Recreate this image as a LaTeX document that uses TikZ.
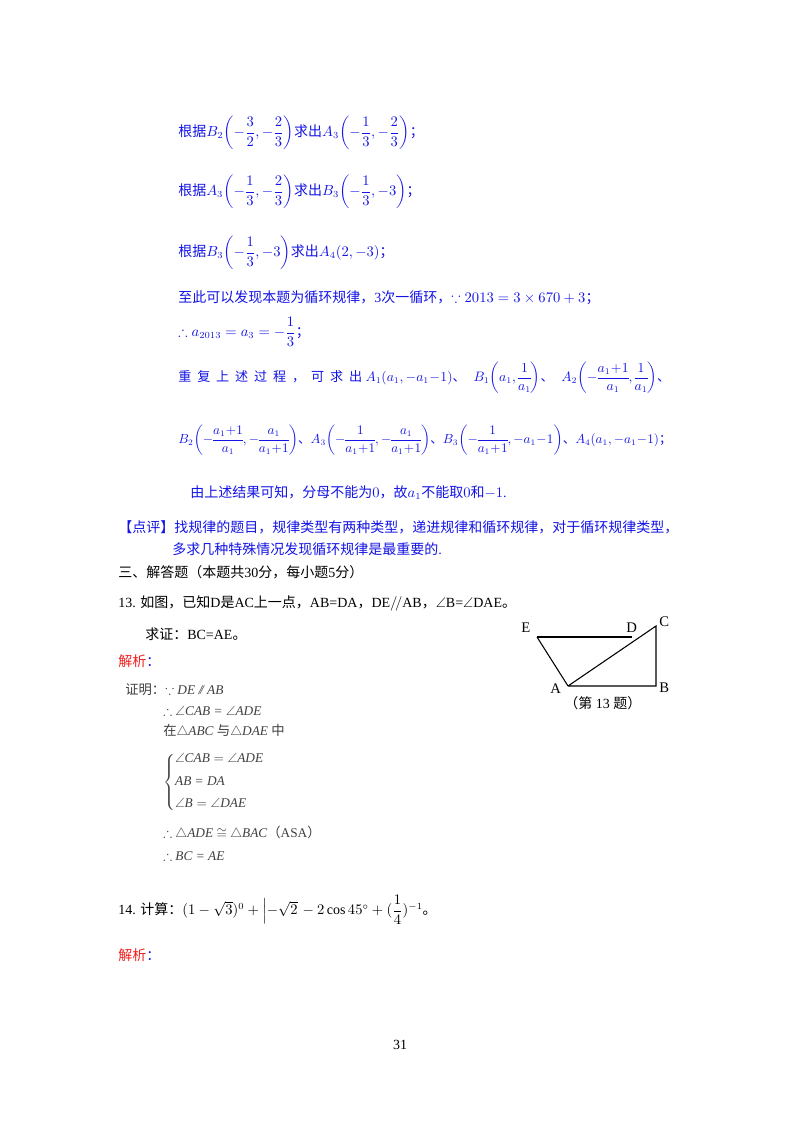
\documentclass[tikz,border=0pt]{standalone}
\usepackage{fontspec}
\usepackage{amsmath,amssymb,graphicx}
\setmainfont{Liberation Serif}
\newfontfamily\cjk{Noto Sans CJK SC}
\definecolor{tblue}{RGB}{20,20,230}
\definecolor{tred}{RGB}{240,30,30}
\newcommand{\zh}[1]{{\cjk #1}}
\newcommand{\spc}[1]{\zh{#1}\hspace{0.45em}}
\newcommand{\tight}{\medmuskip=0.5mu\thickmuskip=1mu\nulldelimiterspace=0pt\delimitershortfall=-1pt}
\begin{document}
\begin{tikzpicture}[x=0.75pt,y=-0.75pt,
  txt/.style={anchor=west,inner sep=0pt,font=\fontsize{10.5}{12}\selectfont},
  bl/.style={txt,text=tblue},
  bk/.style={txt,text=black},
  pf/.style={txt,text=black!75,font=\fontsize{10}{12}\selectfont\itshape},
  lab/.style={bk,font=\fontsize{11}{12}\selectfont},
  edge/.style={draw=black,line width=0.8pt}]
\useasboundingbox[fill=white] (0,0) rectangle (800,1132);
\node[bl] (l1) at (178,133) {\zh{根据}$B_2\!\left(-\dfrac{3}{2},-\dfrac{2}{3}\right)$\zh{求出}$A_3\!\left(-\dfrac{1}{3},-\dfrac{2}{3}\right)$\zh{；}};
\node[bl] (l2) at (178,192) {\zh{根据}$A_3\!\left(-\dfrac{1}{3},-\dfrac{2}{3}\right)$\zh{求出}$B_3\!\left(-\dfrac{1}{3},-3\right)$\zh{；}};
\node[bl] (l3) at (178,253) {\zh{根据}$B_3\!\left(-\dfrac{1}{3},-3\right)$\zh{求出}$A_4(2,-3)$\zh{；}};
\node[bl] (l4) at (178,298) {\zh{至此可以发现本题为循环规律，}3\zh{次一循环，}$\because 2013=3\times670+3$\zh{；}};
\node[bl] (l5) at (178,332) {$\therefore a_{2013}=a_3=-\dfrac{1}{3}$\zh{；}};
\node[bl] (l6) at (178,378) {\resizebox{369pt}{!}{\tight\spc{重}\spc{复}\spc{上}\spc{述}\spc{过}\spc{程}\spc{，}\spc{可}\spc{求}\zh{出}\ $A_1(a_1,-a_1-1)$\zh{、}\hspace{0.6em}$B_1\!\left(a_1,\dfrac{1}{a_1}\right)$\zh{、}\hspace{0.6em}$A_2\!\left(-\dfrac{a_1+1}{a_1},\dfrac{1}{a_1}\right)$\zh{、}}};
\node[bl] (l7) at (178,440) {\resizebox{370pt}{!}{\tight$B_2\!\left(-\dfrac{a_1+1}{a_1},-\dfrac{a_1}{a_1+1}\right)$\zh{、}$A_3\!\left(-\dfrac{1}{a_1+1},-\dfrac{a_1}{a_1+1}\right)$\zh{、}$B_3\!\left(-\dfrac{1}{a_1+1},-a_1-1\right)$\zh{、}$A_4(a_1,-a_1-1)$\zh{；}}};
\node[bl] (l8) at (190,493) {\zh{由上述结果可知，分母不能为}$0$\zh{，故}$a_1$\zh{不能取}$0$\zh{和}$-1$.};
\node[bl] (l9) at (118,527) {\zh{【点评】找规律的题目，规律类型有两种类型，递进规律和循环规律，对于循环规律类型，}};
\node[bl] (l10) at (172,549) {\zh{多求几种特殊情况发现循环规律是最重要的}.};
\node[bk] (l11) at (118,572) {\zh{三、解答题（本题共}30\zh{分，每小题}5\zh{分）}};
\node[bk] (l12) at (118,603) {13. \zh{如图，已知}D\zh{是}AC\zh{上一点，}AB=DA\zh{，}DE$/\!/$AB\zh{，}$\angle$B=$\angle$DAE\zh{。}};
\node[bk] (l13) at (145,634) {\zh{求证：}BC=AE\zh{。}};
\node[txt,text=tred] (l14) at (118,661) {\zh{解析}\textcolor{tblue}{\zh{：}}};
\node[pf] (p1) at (125,690) {{\upshape\zh{证明：}}$\because$ DE /\!/ AB};
\node[pf] (p2) at (163,711) {$\therefore$ $\angle$CAB = $\angle$ADE};
\node[pf] (p3) at (163,731) {{\upshape\zh{在}}$\triangle$ABC {\upshape\zh{与}}$\triangle$DAE {\upshape\zh{中}}};
\node[pf] (p4) at (163,782) {$\left\{\begin{array}{@{}l}\angle\text{\itshape CAB} = \angle\text{\itshape ADE}\\[5pt] \text{\itshape AB = DA}\\[5pt] \angle\text{\itshape B} = \angle\text{\itshape DAE}\end{array}\right.$};
\node[pf] (p5) at (163,833) {$\therefore$ $\triangle$ADE $\cong$ $\triangle$BAC{\upshape\zh{（}ASA\zh{）}}};
\node[pf] (p6) at (163,856) {$\therefore$ BC = AE};
\coordinate (E) at (537,637);
\coordinate (D) at (632,637);
\coordinate (C) at (656,626);
\coordinate (A) at (568,686);
\coordinate (B) at (656,686);
\draw[edge] (E) -- (D);
\draw[edge] (E) -- (A);
\draw[edge] (A) -- (B) -- (C) -- (A);
\node[lab] (lE) at (521,628) {E};
\node[lab] (lD) at (626,628) {D};
\node[lab] (lC) at (659,622) {C};
\node[lab] (lA) at (550,689) {A};
\node[lab] (lB) at (659,688) {B};
\node[bk] (cap) at (564,703) {\zh{（第} 13 \zh{题）}};
\node[bk] (l15) at (118,910) {14. \zh{计算：}$(1-\sqrt{3})^{0}+\left|-\sqrt{2}\right.-2\cos45^{\circ}+(\dfrac{1}{4})^{-1}$\zh{。}};
\node[txt,text=tred] (l16) at (118,955) {\zh{解析}\textcolor{tblue}{\zh{：}}};
\node[bk,anchor=center] (pg) at (400,1045) {31};
\end{tikzpicture}
\end{document}
